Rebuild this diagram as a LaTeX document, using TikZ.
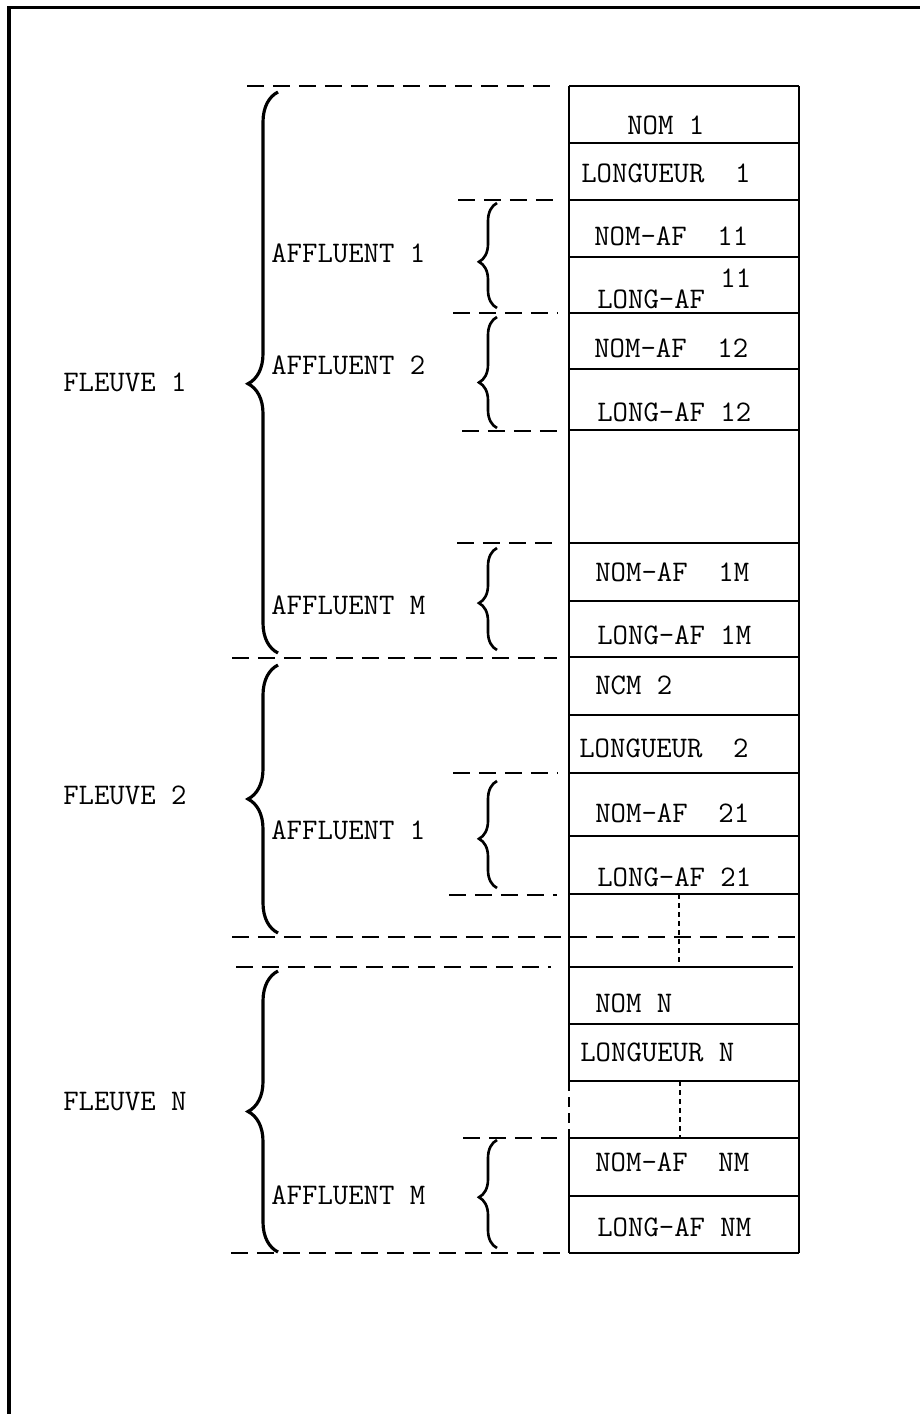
\documentclass[tikz,border=0pt]{standalone}
\usepackage{fontspec}
\usepackage{tikz}
\usetikzlibrary{decorations.pathreplacing}

\begin{document}
\begin{tikzpicture}[
    x=0.02cm, y=-0.02cm,
    txt/.style={anchor=west, inner sep=0pt, font=\fontsize{17}{20}\selectfont\ttfamily},
    rule/.style={line width=1.6pt},
    sepline/.style={line width=1.6pt, dash pattern=on 0.34cm off 0.18cm},
    dotline/.style={line width=1.4pt, dash pattern=on 0.1cm off 0.08cm},
    bigbrace/.style={decorate, decoration={brace, amplitude=0.6cm, aspect=#1}, line width=1.8pt},
    smallbrace/.style={decorate, decoration={brace, amplitude=0.36cm, aspect=#1}, line width=1.5pt}
]
    \useasboundingbox (0,0) rectangle (920,1414);

    % frame
    \draw[line width=1.9pt] (9,1414) -- (9,7.5) -- (920,7.5);

    % column of cells
    \foreach \y in {86,143,200,257,313,369,430,543,601,657,715,773,836,894,1024,1081,1138,1196,1253}
        \draw[rule] (569,\y) -- (799,\y);
    \draw[rule] (569,967) -- (793,967);
    \draw[rule] (799,86) -- (799,1253);
    \draw[rule] (569,86) -- (569,1081);
    \draw[rule] (569,1138) -- (569,1253);
    \draw[sepline, dash pattern=on 0.2cm off 0.12cm] (569,1081) -- (569,1138);
    \draw[dotline] (679,894) -- (679,967);
    \draw[dotline] (680,1081) -- (680,1138);

    % dashed limits
    \draw[sepline] (247,86) -- (557,86);
    \draw[sepline] (458,200) -- (557,200);
    \draw[sepline] (453,313) -- (557,313);
    \draw[sepline] (462,431) -- (557,431);
    \draw[sepline] (457,543) -- (557,543);
    \draw[sepline] (232,658) -- (557,658);
    \draw[sepline] (453,773) -- (557,773);
    \draw[sepline] (449,895) -- (557,895);
    \draw[sepline] (232,937) -- (799,937);
    \draw[sepline] (236,967) -- (551,967);
    \draw[sepline] (463,1138) -- (557,1138);
    \draw[sepline] (231,1253) -- (565,1253);

    % braces
    \draw[bigbrace=0.48] (278,653) -- (278,92);
    \draw[bigbrace=0.5] (278,933) -- (278,665);
    \draw[bigbrace=0.5] (278,1252) -- (278,971);
    \draw[smallbrace=0.44] (497,308) -- (497,203);
    \draw[smallbrace=0.41] (497,428) -- (497,317);
    \draw[smallbrace=0.46] (497,650) -- (497,548);
    \draw[smallbrace=0.46] (497,888) -- (497,781);
    \draw[smallbrace=0.47] (497,1248) -- (497,1140);

    % left labels
    \node[txt] (fleuve1) at (63,382) {FLEUVE 1};
    \node[txt] (fleuve2) at (63,795) {FLEUVE 2};
    \node[txt] (fleuveN) at (63,1102) {FLEUVE N};
    \node[txt] (aff11) at (271,253) {AFFLUENT 1};
    \node[txt] (aff12) at (271,365) {AFFLUENT 2};
    \node[txt] (aff1M) at (271,605) {AFFLUENT M};
    \node[txt] (aff21) at (271,830) {AFFLUENT 1};
    \node[txt] (affNM) at (271,1195) {AFFLUENT M};

    % cell texts
    \node[txt] (nom1) at (627,125) {NOM 1};
    \node[txt] (long1) at (581,173) {LONGUEUR~~1};
    \node[txt] (nomaf11) at (594,236) {NOM-AF~~11};
    \node[txt, anchor=base west] (longaf11) at (597,308) {LONG-AF \raisebox{0.42cm}{11}};
    \node[txt] (nomaf12) at (594,348) {NOM-AF~~12};
    \node[txt] (longaf12) at (597,412) {LONG-AF 12};
    \node[txt] (nomaf1M) at (595,572) {NOM-AF~~1M};
    \node[txt] (longaf1M) at (597,635) {LONG-AF 1M};
    \node[txt] (nom2) at (595,685) {NCM 2};
    \node[txt] (long2) at (579,748) {LONGUEUR~~2};
    \node[txt] (nomaf21) at (595,813) {NOM-AF~~21};
    \node[txt] (longaf21) at (597,877) {LONG-AF 21};
    \node[txt] (nomN) at (595,1003) {NOM N};
    \node[txt] (longN) at (580,1052) {LONGUEUR N};
    \node[txt] (nomafNM) at (595,1162) {NOM-AF~~NM};
    \node[txt] (longafNM) at (597,1227) {LONG-AF NM};
\end{tikzpicture}
\end{document}
